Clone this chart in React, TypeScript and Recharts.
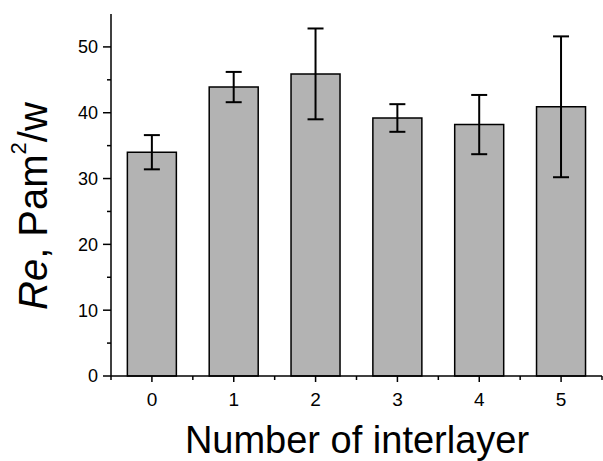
import { BarChart, Bar, XAxis, YAxis, ErrorBar } from "recharts";

// Bar heights and symmetric error values
const layers = ["0", "1", "2", "3", "4", "5"];
const reValues = [34.0, 43.9, 45.9, 39.2, 38.2, 40.9];
const reErrors = [2.6, 2.3, 6.9, 2.1, 4.5, 10.7];
const yTicks = [0, 5, 10, 15, 20, 25, 30, 35, 40, 45, 50];

const data = layers.map((name, i) => ({ name, re: reValues[i], err: reErrors[i] }));

const W = 603;
const H = 461;
const PLOT_LEFT = 111;
const PLOT_RIGHT = 602;
const PLOT_BOTTOM = 376;
const BAND = (PLOT_RIGHT - PLOT_LEFT) / layers.length;
const FONT = "'Liberation Sans', Arial, sans-serif";

// Y ticks: labelled major every 10, short minor ticks at the 5s
function YTick(props: any) {
    const { y, payload } = props;
    const major = payload.value % 10 === 0;
    return (
        <g>
            <line x1={PLOT_LEFT - (major ? 8 : 4)} x2={PLOT_LEFT} y1={y} y2={y} stroke="#000" strokeWidth={1.5} />
            {major && (
                <text x={PLOT_LEFT - 13} y={y} dy="0.36em" textAnchor="end" fontSize={18} fontFamily={FONT} fill="#000">
                    {payload.value}
                </text>
            )}
        </g>
    );
}

// X ticks: major at each category, minor at the band edges
function XTick(props: any) {
    const { x, payload, index } = props;
    return (
        <g>
            <line x1={x} x2={x} y1={PLOT_BOTTOM} y2={PLOT_BOTTOM + 6} stroke="#000" strokeWidth={1.5} />
            <line x1={x + BAND / 2} x2={x + BAND / 2} y1={PLOT_BOTTOM} y2={PLOT_BOTTOM + 4} stroke="#000" strokeWidth={1.5} />
            {index === 0 && (
                <line x1={x - BAND / 2} x2={x - BAND / 2} y1={PLOT_BOTTOM} y2={PLOT_BOTTOM + 4} stroke="#000" strokeWidth={1.5} />
            )}
            <text x={x} y={PLOT_BOTTOM + 30} textAnchor="middle" fontSize={19} fontFamily={FONT} fill="#000">
                {payload.value}
            </text>
        </g>
    );
}

export default function App() {
    return (
        <div style={{ position: "absolute", left: 0, top: 0 }}>
            <BarChart
                width={W}
                height={H}
                data={data}
                margin={{ top: 14, right: W - PLOT_RIGHT, bottom: 0, left: 0 }}
                barCategoryGap="20%"
            >
                <XAxis
                    dataKey="name"
                    height={H - PLOT_BOTTOM}
                    axisLine={{ stroke: "#000", strokeWidth: 1.5 }}
                    tickLine={false}
                    tick={<XTick />}
                    interval={0}
                />
                <XAxis
                    xAxisId="top"
                    dataKey="name"
                    orientation="top"
                    height={0}
                    axisLine={{ stroke: "#000", strokeWidth: 1.5 }}
                    tickLine={false}
                    tick={false}
                />
                <YAxis
                    domain={[0, 55]}
                    ticks={yTicks}
                    width={PLOT_LEFT}
                    axisLine={{ stroke: "#000", strokeWidth: 1.5 }}
                    tickLine={false}
                    tick={<YTick />}
                    interval={0}
                />
                <YAxis
                    yAxisId="right"
                    orientation="right"
                    width={0}
                    domain={[0, 55]}
                    axisLine={{ stroke: "#000", strokeWidth: 1.5 }}
                    tickLine={false}
                    tick={false}
                />
                <Bar dataKey="re" fill="#b3b3b3" stroke="#000" strokeWidth={1.5} isAnimationActive={false}>
                    <ErrorBar dataKey="err" width={8} stroke="#000" strokeWidth={2} />
                </Bar>
            </BarChart>
            <svg width={W} height={H} style={{ position: "absolute", left: 0, top: 0, pointerEvents: "none" }}>
                <text
                    x={47}
                    y={310}
                    transform="rotate(-90 47 310)"
                    fontSize={40}
                    fontFamily={FONT}
                    fill="#000"
                >
                    <tspan fontStyle="italic">Re</tspan>
                    <tspan>, Pam</tspan>
                    <tspan fontSize={22} dy={-21}>2</tspan>
                    <tspan dy={21}>/w</tspan>
                </text>
                <text x={357} y={453} textAnchor="middle" fontSize={38} fontFamily={FONT} fill="#000">
                    Number of interlayer
                </text>
            </svg>
        </div>
    );
}
